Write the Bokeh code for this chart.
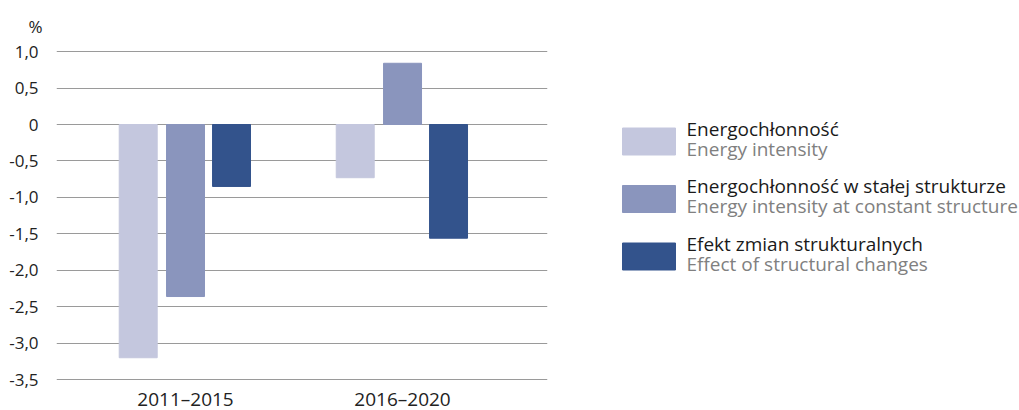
from bokeh.plotting import figure
from bokeh.models import Range1d, FixedTicker, CustomJSTickFormatter, ColumnDataSource
from bokeh.layouts import row
from bokeh.core.properties import value
from bokeh.embed import file_html
from bokeh.resources import INLINE

periods = ["2011–2015", "2016–2020"]
series_pl = ["Energochłonność", "Energochłonność w stałej strukturze", "Efekt zmian strukturalnych"]
series_en = ["Energy intensity", "Energy intensity at constant structure", "Effect of structural changes"]
energy_intensity = [-3.20, -0.73]
constant_structure = [-2.36, 0.84]
structural_effect = [-0.85, -1.56]
y_ticks = [1.0, 0.5, 0.0, -0.5, -1.0, -1.5, -2.0, -2.5, -3.0, -3.5]
unit_label = "%"
colors = ["#c4c7de", "#8a95bd", "#33538c"]

FONT = "Open Sans"
group_pos = [1, 2]
offsets = [-0.218, 0.0, 0.212]
bar_w = 0.175
PX = 72.89  # pixels per unit on the value axis

H = 410
TOP = 45   # frame top (px); value 0 sits 124 px from the top
p = figure(width=560, height=H, output_backend="svg", toolbar_location=None,
           x_range=Range1d(0.4055, 2.668),
           y_range=Range1d(-(H - 124) / PX, (124 - TOP) / PX),
           min_border_left=56, min_border_right=13, min_border_top=TOP, min_border_bottom=0,
           x_axis_location=None, title=unit_label)
p.outline_line_color = None
p.title.align = "left"
p.title.offset = -28
p.title.text_font = FONT
p.title.text_font_size = "17px"
p.title.text_font_style = "normal"
p.title.text_color = "#222222"
p.title.standoff = 16

for vals, off, c in zip([energy_intensity, constant_structure, structural_effect], offsets, colors):
    src = ColumnDataSource(dict(x=[g + off for g in group_pos], top=vals))
    p.vbar(x="x", top="top", bottom=0, width=bar_w, color=c, source=src)

p.xgrid.visible = False
p.ygrid.ticker = FixedTicker(ticks=y_ticks)
p.ygrid.grid_line_color = "#9a9a9a"
p.ygrid.grid_line_width = 1
p.ygrid.level = "underlay"

p.yaxis.ticker = FixedTicker(ticks=y_ticks)
p.yaxis.formatter = CustomJSTickFormatter(code="""
return Math.abs(tick) < 1e-9 ? "0" : tick.toFixed(1).replace(".", ",");
""")
ax = p.yaxis[0]
ax.axis_line_color = None
ax.major_tick_line_color = None
ax.minor_tick_line_color = None
ax.major_label_text_font = FONT
ax.major_label_text_color = "#222222"
ax.major_label_text_font_size = "17px"
ax.major_label_standoff = 12

# category labels below the lowest grid line
cat_src = ColumnDataSource(dict(x=group_pos, y=[-(398 - 124) / PX] * 2, text=periods))
p.text(x="x", y="y", text="text", source=cat_src, text_font=value(FONT),
       text_font_size="19px", text_color="#222222", text_align="center",
       text_baseline="middle")

# legend panel (its frame is aligned with the chart frame)
lg = figure(width=459, height=H, output_backend="svg", toolbar_location=None,
            x_range=Range1d(560, 1019), y_range=Range1d(H, TOP),
            min_border_left=0, min_border_right=0, min_border_bottom=0, min_border_top=TOP)
lg.axis.visible = False
lg.grid.visible = False
lg.outline_line_color = None

sw_top = [127.5, 185, 242.5]
lg.quad(left=622, right=675, top=sw_top, bottom=[t + 27 for t in sw_top], color=colors)
lg.text(x=686, y=[t + 0.5 for t in sw_top], text=series_pl, text_font=value(FONT),
        text_font_size="19px", text_color="#1a1a1a", text_baseline="alphabetic")
lg.text(x=686, y=[t + 20.5 for t in sw_top], text=series_en, text_font=value(FONT),
        text_font_size="19px", text_color="#808080", text_baseline="alphabetic")

layout = row(p, lg)
open("out.html", "w").write(file_html(layout, INLINE))
